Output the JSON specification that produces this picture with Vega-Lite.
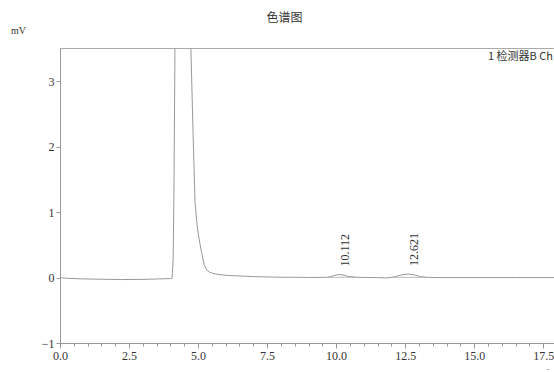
{
  "$schema": "https://vega.github.io/schema/vega-lite/v6.json",
  "autosize": {"type": "none"},
  "padding": {"left": 60, "top": 48, "right": 0, "bottom": 28},
  "width": 497,
  "height": 295,
  "background": "white",
  "title": {
    "text": "色谱图",
    "anchor": "middle",
    "dx": -24,
    "offset": 0,
    "font": "Noto Sans CJK SC",
    "fontSize": 12,
    "fontWeight": "normal",
    "color": "#333"
  },
  "config": {
    "view": {"stroke": "#aaa", "strokeWidth": 1},
    "axis": {
      "domainColor": "#999",
      "tickColor": "#999",
      "labelColor": "#333",
      "labelFont": "Liberation Serif",
      "labelFontSize": 12,
      "titleFont": "Liberation Serif",
      "titleFontWeight": "normal",
      "titleColor": "#333",
      "grid": false
    }
  },
  "datasets": {
    "trace": [
      {"t": 0, "v": 0.0}, {"t": 0.2, "v": -0.01}, {"t": 0.8, "v": -0.02}, {"t": 1.5, "v": -0.025},
      {"t": 2.2, "v": -0.03}, {"t": 3.0, "v": -0.028}, {"t": 3.6, "v": -0.02}, {"t": 4.0, "v": -0.015},
      {"t": 4.06, "v": -0.01}, {"t": 4.10, "v": 0.3}, {"t": 4.13, "v": 1.5}, {"t": 4.16, "v": 3.3},
      {"t": 4.19, "v": 6}, {"t": 4.27, "v": 15}, {"t": 4.36, "v": 28}, {"t": 4.45, "v": 35},
      {"t": 4.55, "v": 25}, {"t": 4.63, "v": 10}, {"t": 4.70, "v": 5}, {"t": 4.74, "v": 3.5},
      {"t": 4.82, "v": 2.2}, {"t": 4.89, "v": 1.15}, {"t": 4.97, "v": 0.78}, {"t": 5.05, "v": 0.56},
      {"t": 5.13, "v": 0.38}, {"t": 5.22, "v": 0.2}, {"t": 5.31, "v": 0.12}, {"t": 5.42, "v": 0.08},
      {"t": 5.62, "v": 0.055}, {"t": 6.0, "v": 0.035}, {"t": 6.5, "v": 0.025}, {"t": 7.0, "v": 0.015},
      {"t": 7.5, "v": 0.01}, {"t": 8.0, "v": 0.005}, {"t": 8.5, "v": 0.005}, {"t": 9.0, "v": 0.002},
      {"t": 9.5, "v": 0.003}, {"t": 9.7, "v": 0.005}, {"t": 9.85, "v": 0.02}, {"t": 10.0, "v": 0.04},
      {"t": 10.112, "v": 0.047}, {"t": 10.25, "v": 0.04}, {"t": 10.45, "v": 0.018}, {"t": 10.7, "v": 0.005},
      {"t": 11.0, "v": 0.002}, {"t": 11.5, "v": 0.0}, {"t": 11.8, "v": -0.005}, {"t": 12.0, "v": 0.002},
      {"t": 12.15, "v": 0.015}, {"t": 12.35, "v": 0.04}, {"t": 12.621, "v": 0.055}, {"t": 12.85, "v": 0.04},
      {"t": 13.05, "v": 0.015}, {"t": 13.3, "v": 0.003}, {"t": 13.8, "v": 0.0}, {"t": 14.5, "v": 0.0},
      {"t": 15.5, "v": 0.0}, {"t": 16.5, "v": 0.0}, {"t": 17.5, "v": 0.0}, {"t": 18.0, "v": 0.0}
    ],
    "bases": [
      {"peak": "p1", "t": 9.7, "v": 0.005}, {"peak": "p1", "t": 10.7, "v": 0.005},
      {"peak": "p2", "t": 12.05, "v": 0.004}, {"peak": "p2", "t": 13.3, "v": 0.003}
    ],
    "peaks": [
      {"t": 10.112, "v": 0.047, "label": "10.112"},
      {"t": 12.621, "v": 0.055, "label": "12.621"}
    ],
    "legend": [
      {"t": 15.5, "v": 3.37, "label": "1 检测器B Ch1"}
    ]
  },
  "encoding": {
    "x": {
      "field": "t", "type": "quantitative",
      "scale": {"domain": [0, 18], "nice": false, "zero": false},
      "axis": {
        "values": [0,0.5,1,1.5,2,2.5,3,3.5,4,4.5,5,5.5,6,6.5,7,7.5,8,8.5,9,9.5,10,10.5,11,11.5,12,12.5,13,13.5,14,14.5,15,15.5,16,16.5,17,17.5,18],
        "labelExpr": "datum.value % 2.5 === 0 && datum.value < 18 ? format(datum.value, '.1f') : ''",
        "tickSize": {"condition": {"test": "datum.value % 2.5 === 0", "value": 5}, "value": 3},
        "labelPadding": 2,
        "labelFlush": false,
        "labelOverlap": false,
        "title": "min",
        "titleFontSize": 10,
        "titleX": 486,
        "titleY": 24,
        "titleAlign": "center",
        "titleBaseline": "top"
      }
    },
    "y": {
      "field": "v", "type": "quantitative",
      "scale": {"domain": [-1, 3.51], "nice": false, "zero": false},
      "axis": {
        "values": [-1, 0, 1, 2, 3],
        "format": "d",
        "tickSize": 4,
        "labelPadding": 2,
        "title": "mV",
        "titleFontSize": 10,
        "titleAngle": 0,
        "titleX": -42,
        "titleY": -18,
        "titleAlign": "center",
        "titleBaseline": "middle"
      }
    }
  },
  "layer": [
    {
      "data": {"name": "trace"},
      "mark": {"type": "line", "color": "#999", "strokeWidth": 1, "clip": true}
    },
    {
      "data": {"name": "bases"},
      "mark": {"type": "line", "color": "#aaa", "strokeWidth": 0.8},
      "encoding": {
        "detail": {"field": "peak"}
      }
    },
    {
      "data": {"name": "peaks"},
      "mark": {"type": "text", "angle": 270, "align": "left", "baseline": "middle", "dx": 8, "dy": 6, "font": "Liberation Serif", "fontSize": 12, "color": "#333"},
      "encoding": {
        "text": {"field": "label"}
      }
    },
    {
      "data": {"name": "legend"},
      "mark": {"type": "text", "align": "left", "baseline": "middle", "font": "Noto Sans CJK SC", "fontSize": 11, "color": "#333"},
      "encoding": {
        "text": {"field": "label"}
      }
    }
  ]
}
